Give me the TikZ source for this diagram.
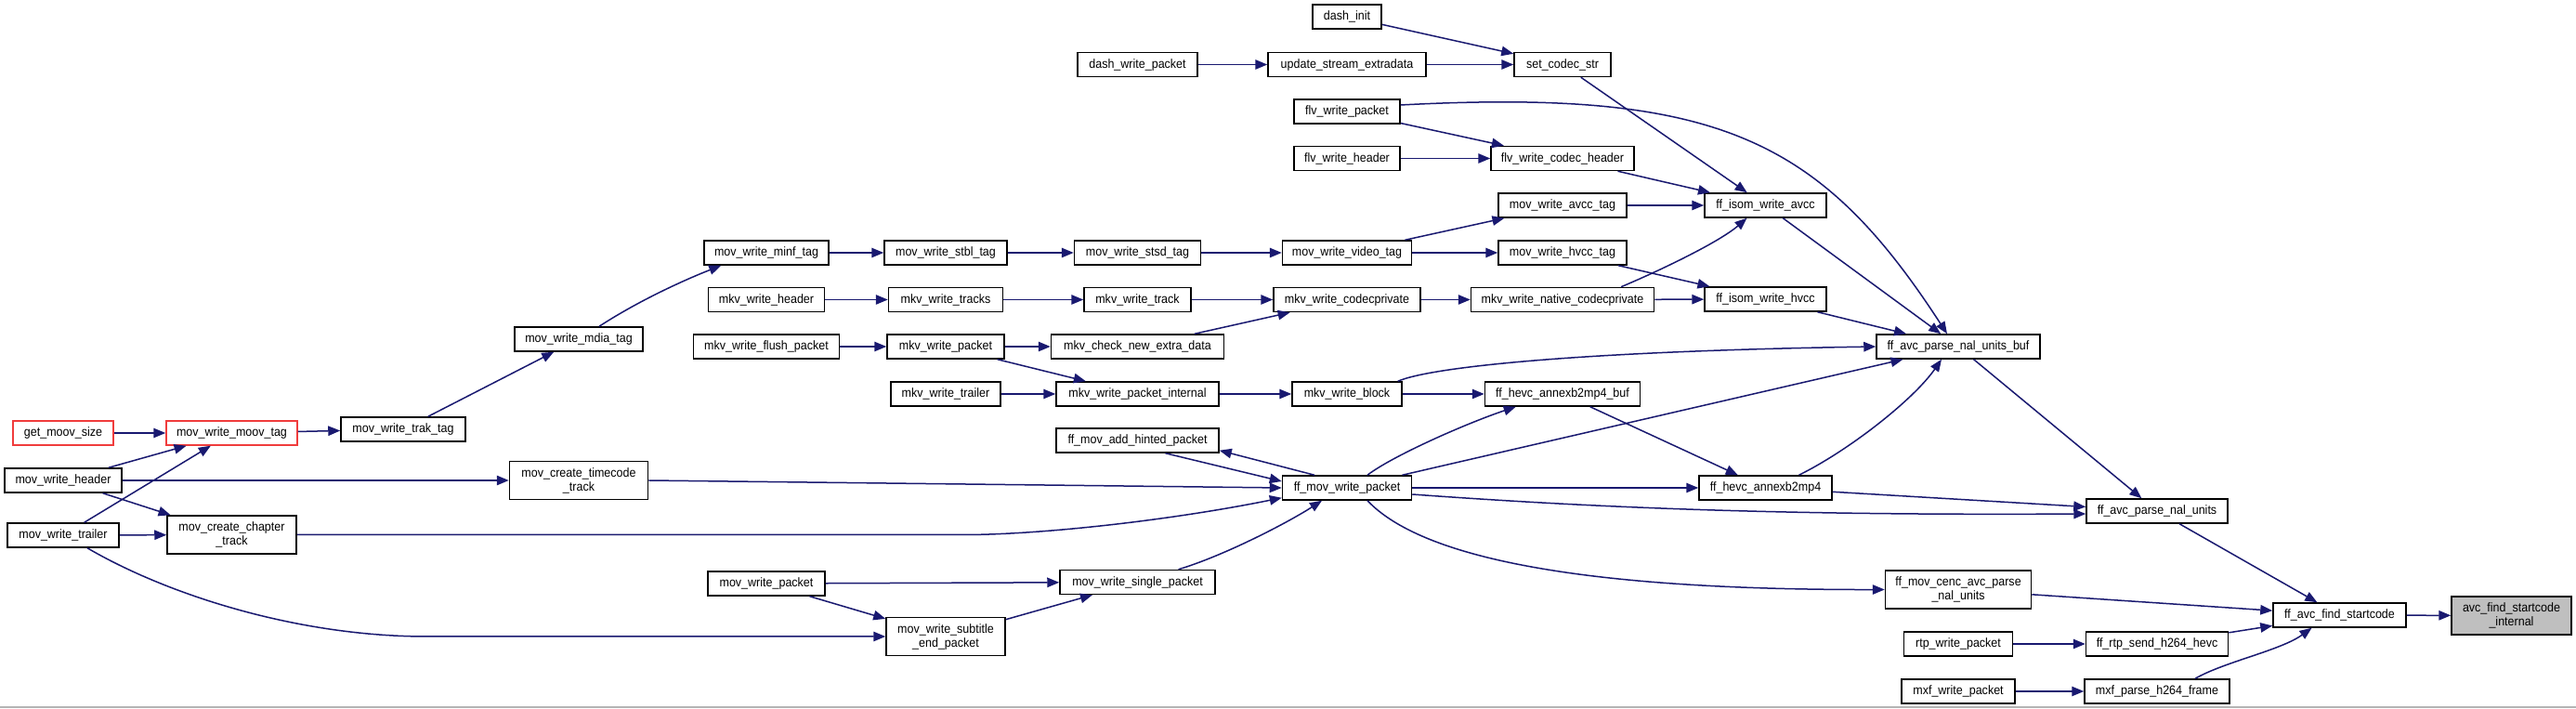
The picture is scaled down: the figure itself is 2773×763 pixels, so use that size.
\documentclass[tikz,border=0pt]{standalone}
\usepackage{fontspec}
\setmainfont[FakeStretch=0.92]{Liberation Sans}
\usetikzlibrary{arrows.meta,calc}
\definecolor{navy}{HTML}{191970}
\definecolor{rootgray}{HTML}{BFBFBF}
\definecolor{trunc}{HTML}{F03C3C}
\definecolor{framegray}{HTML}{B4B4B4}
\begin{document}
\begin{tikzpicture}[x=0.5pt,y=-0.5pt,
  fn/.style={draw=black,fill=white,line width=0.75pt,inner sep=0pt,minimum height=13pt,
    align=center,font=\fontsize{6.8}{7.5}\selectfont},
  tall/.style={minimum height=20.5pt},
  redfn/.style={fn,draw=trunc},
  rootfn/.style={fn,fill=rootgray},
  cl/.style={draw=navy,line width=0.75pt,-{Triangle[length=6.5pt,width=5.2pt]}}]
\useasboundingbox (0,0) rectangle (2773,763);
\fill[white] (0,0) rectangle (2773,763);
\draw[framegray,line width=1pt] (0,761.5) -- (2773,761.5);

% column 0
\node[redfn,minimum width=54pt] (gms) at (68,466) {get\_moov\_size};
\node[fn,minimum width=63pt] (mwh) at (68,517) {mov\_write\_header};
\node[fn,minimum width=60pt] (mwtr) at (68,576) {mov\_write\_trailer};
% column 1
\node[redfn,minimum width=70.5pt] (mmt) at (249.5,466) {mov\_write\_moov\_tag};
\node[fn,tall,minimum width=69.5pt] (mcct) at (249.5,575.5) {mov\_create\_chapter\\\_track};
% column 2
\node[fn,minimum width=67pt] (mtt) at (434,462) {mov\_write\_trak\_tag};
% column 3
\node[fn,minimum width=69pt] (mmdia) at (623,365) {mov\_write\_mdia\_tag};
\node[fn,tall,minimum width=74.5pt] (mctt) at (623,517) {mov\_create\_timecode\\\_track};
% column 4
\node[fn,minimum width=67pt] (minf) at (825,272) {mov\_write\_minf\_tag};
\node[fn,minimum width=62.5pt] (kwh) at (825,322.5) {mkv\_write\_header};
\node[fn,minimum width=78.5pt] (kwfp) at (825,373) {mkv\_write\_flush\_packet};
\node[fn,minimum width=63pt] (mwp) at (825,628) {mov\_write\_packet};
% column 5
\node[fn,minimum width=66pt] (stbl) at (1018,272) {mov\_write\_stbl\_tag};
\node[fn,minimum width=61.5pt] (kwts) at (1018,322.5) {mkv\_write\_tracks};
\node[fn,minimum width=63pt] (kwp) at (1018,373) {mkv\_write\_packet};
\node[fn,minimum width=59pt] (kwtr) at (1018,424) {mkv\_write\_trailer};
\node[fn,tall,minimum width=64pt] (mwsep) at (1018,685) {mov\_write\_subtitle\\\_end\_packet};
% column 6
\node[fn,minimum width=64.5pt] (dwp) at (1224.5,69.5) {dash\_write\_packet};
\node[fn,minimum width=68pt] (stsd) at (1224.5,272) {mov\_write\_stsd\_tag};
\node[fn,minimum width=57.5pt] (kwt) at (1224.5,322.5) {mkv\_write\_track};
\node[fn,minimum width=93pt] (kcned) at (1224.5,373) {mkv\_check\_new\_extra\_data};
\node[fn,minimum width=87.5pt] (kwpi) at (1224.5,424) {mkv\_write\_packet\_internal};
\node[fn,minimum width=87.5pt] (fmahp) at (1224.5,474) {ff\_mov\_add\_hinted\_packet};
\node[fn,minimum width=83.5pt] (mwsp) at (1224.5,626.5) {mov\_write\_single\_packet};
% column 7
\node[fn,minimum width=37pt] (dinit) at (1450,18) {dash\_init};
\node[fn,minimum width=85pt] (use) at (1450,69.5) {update\_stream\_extradata};
\node[fn,minimum width=57pt] (fwp) at (1450,120) {flv\_write\_packet};
\node[fn,minimum width=57pt] (fwh) at (1450,170.5) {flv\_write\_header};
\node[fn,minimum width=69.5pt] (mwvt) at (1450,272) {mov\_write\_video\_tag};
\node[fn,minimum width=79pt] (kwcp) at (1450,322.5) {mkv\_write\_codecprivate};
\node[fn,minimum width=59pt] (kwb) at (1450,424) {mkv\_write\_block};
\node[fn,minimum width=69.5pt] (fmwp) at (1450,525) {ff\_mov\_write\_packet};
% column 8
\node[fn,minimum width=52pt] (scs) at (1682,69.5) {set\_codec\_str};
\node[fn,minimum width=77pt] (fwch) at (1682,170.5) {flv\_write\_codec\_header};
\node[fn,minimum width=69pt] (mwat) at (1682,221) {mov\_write\_avcc\_tag};
\node[fn,minimum width=69pt] (mwht) at (1682,272) {mov\_write\_hvcc\_tag};
\node[fn,minimum width=98.5pt] (kwncp) at (1682,322.5) {mkv\_write\_native\_codecprivate};
\node[fn,minimum width=83.5pt] (hab) at (1682,424) {ff\_hevc\_annexb2mp4\_buf};
% column 9
\node[fn,minimum width=65.5pt] (iwa) at (1900.5,221) {ff\_isom\_write\_avcc};
\node[fn,minimum width=65.5pt] (iwh) at (1900.5,322) {ff\_isom\_write\_hvcc};
\node[fn,minimum width=71.5pt] (ha) at (1900.5,525) {ff\_hevc\_annexb2mp4};
% column 10
\node[fn,minimum width=88pt] (apnb) at (2108,373) {ff\_avc\_parse\_nal\_units\_buf};
\node[fn,tall,minimum width=78.5pt] (cenc) at (2108,634.5) {ff\_mov\_cenc\_avc\_parse\\\_nal\_units};
\node[fn,minimum width=58.5pt] (rwp) at (2108,693) {rtp\_write\_packet};
\node[fn,minimum width=61pt] (mxwp) at (2108,744) {mxf\_write\_packet};
% column 11
\node[fn,minimum width=76pt] (apn) at (2322,550) {ff\_avc\_parse\_nal\_units};
\node[fn,minimum width=76.5pt] (rsh) at (2322,693) {ff\_rtp\_send\_h264\_hevc};
\node[fn,minimum width=78pt] (mxph) at (2322,744) {mxf\_parse\_h264\_frame};
% column 12
\node[fn,minimum width=71.5pt] (afs) at (2518.5,662) {ff\_avc\_find\_startcode};
% column 13
\node[rootfn,tall,minimum width=64.5pt] (afsi) at (2703.5,662.5) {avc\_find\_startcode\\\_internal};

% connectors
\draw[cl] (gms) -- (mmt);
\draw[cl] (mwh) -- (mmt);
\draw[cl] (mwtr) -- (mmt);
\draw[cl] (mmt) -- (mtt);
\draw[cl] (mtt) -- (mmdia);
\draw[cl] ($(mmdia.north)+(22,0)$) .. controls (690,322) and (740,300) .. ($(minf.south west)+(19,0)$);
\draw[cl] (minf) -- (stbl);
\draw[cl] (stbl) -- (stsd);
\draw[cl] (stsd) -- (mwvt);
\draw[cl] (mwvt) -- (mwat);
\draw[cl] (mwvt) -- (mwht);
\draw[cl] (mwat) -- (iwa);
\draw[cl] (mwht) -- (iwh);
\draw[cl] (mwh) -- (mctt);
\draw[cl] (mwh) -- (mcct);
\draw[cl] (mwtr) -- (mcct);
\draw[cl] ($(mwtr.south)+(26,0)$) .. controls (180,640) and (320,685) .. (460,685) -- (mwsep.west);
\draw[cl] (mctt.east) -- (fmwp.west);
\draw[cl] (mcct.east) -- (1037,575.5) .. controls (1120,575.5) and (1260,560) .. ($(fmwp.south west)+(0,-3)$);
\draw[cl] (mwp) -- (mwsp);
\draw[cl] (mwp) -- (mwsep);
\draw[cl] (mwsep) -- (mwsp);
\draw[cl] ($(mwsp.north)+(44,0)$) .. controls (1318,598) and (1387,562) .. ($(fmwp.south)+(-27,0)$);
\draw[cl] ($(fmahp.south)+(30,0)$) -- ($(fmwp.west)+(0,-7)$);
\draw[cl] ($(fmwp.north)+(-35,0)$) -- ($(fmahp.south east)+(0,-3)$);
\draw[cl] ($(fmwp.north)+(22,0)$) .. controls (1500,490) and (1580,455) .. ($(hab.south west)+(34,0)$);
\draw[cl] (fmwp) -- (apnb);
\draw[cl] (fmwp) -- (ha);
\draw[cl] ($(fmwp.east)+(0,7)$) .. controls (1700,545) and (1900,555) .. ($(apn.west)+(0,3)$);
\draw[cl] ($(fmwp.south)+(22,0)$) .. controls (1530,600) and (1700,635) .. (cenc.west);
\draw[cl] (dinit) -- (scs);
\draw[cl] (dwp) -- (use);
\draw[cl] (use) -- (scs);
\draw[cl] (scs) -- (iwa);
\draw[cl] (fwp) -- (fwch);
\draw[cl] ($(fwp.east)+(0,-7)$) .. controls (1850,95) and (1960,150) .. ($(apnb.north)+(-12,0)$);
\draw[cl] (fwh) -- (fwch);
\draw[cl] (fwch) -- (iwa);
\draw[cl] (kwh) -- (kwts);
\draw[cl] (kwts) -- (kwt);
\draw[cl] (kwt) -- (kwcp);
\draw[cl] (kwcp) -- (kwncp);
\draw[cl] ($(kwncp.north)+(63,0)$) .. controls (1785,292) and (1850,261) .. ($(iwa.south)+(-20,0)$);
\draw[cl] (kwncp) -- (iwh);
\draw[cl] (kwfp) -- (kwp);
\draw[cl] (kwp) -- (kcned);
\draw[cl] (kwp) -- (kwpi);
\draw[cl] (kcned) -- (kwcp);
\draw[cl] (kwtr) -- (kwpi);
\draw[cl] (kwpi) -- (kwb);
\draw[cl] (kwb) -- (hab);
\draw[cl] ($(kwb.north east)+(-5,0)$) .. controls (1540,395) and (1700,378) .. (apnb.west);
\draw[cl] (hab) -- (ha);
\draw[cl] ($(ha.north)+(36,0)$) .. controls (1990,485) and (2060,430) .. ($(apnb.south)+(-18,0)$);
\draw[cl] (iwa) -- (apnb);
\draw[cl] (iwh) -- (apnb);
\draw[cl] (apnb) -- (apn);
\draw[cl] (ha) -- (apn);
\draw[cl] (apn) -- (afs);
\draw[cl] (cenc) -- (afs);
\draw[cl] (rwp) -- (rsh);
\draw[cl] (rsh) -- (afs);
\draw[cl] (mxwp) -- (mxph);
\draw[cl] ($(mxph.north)+(41,0)$) .. controls (2395,712) and (2455,700) .. ($(afs.south)+(-30,0)$);
\draw[cl] (afs) -- (afsi);
\end{tikzpicture}
\end{document}
